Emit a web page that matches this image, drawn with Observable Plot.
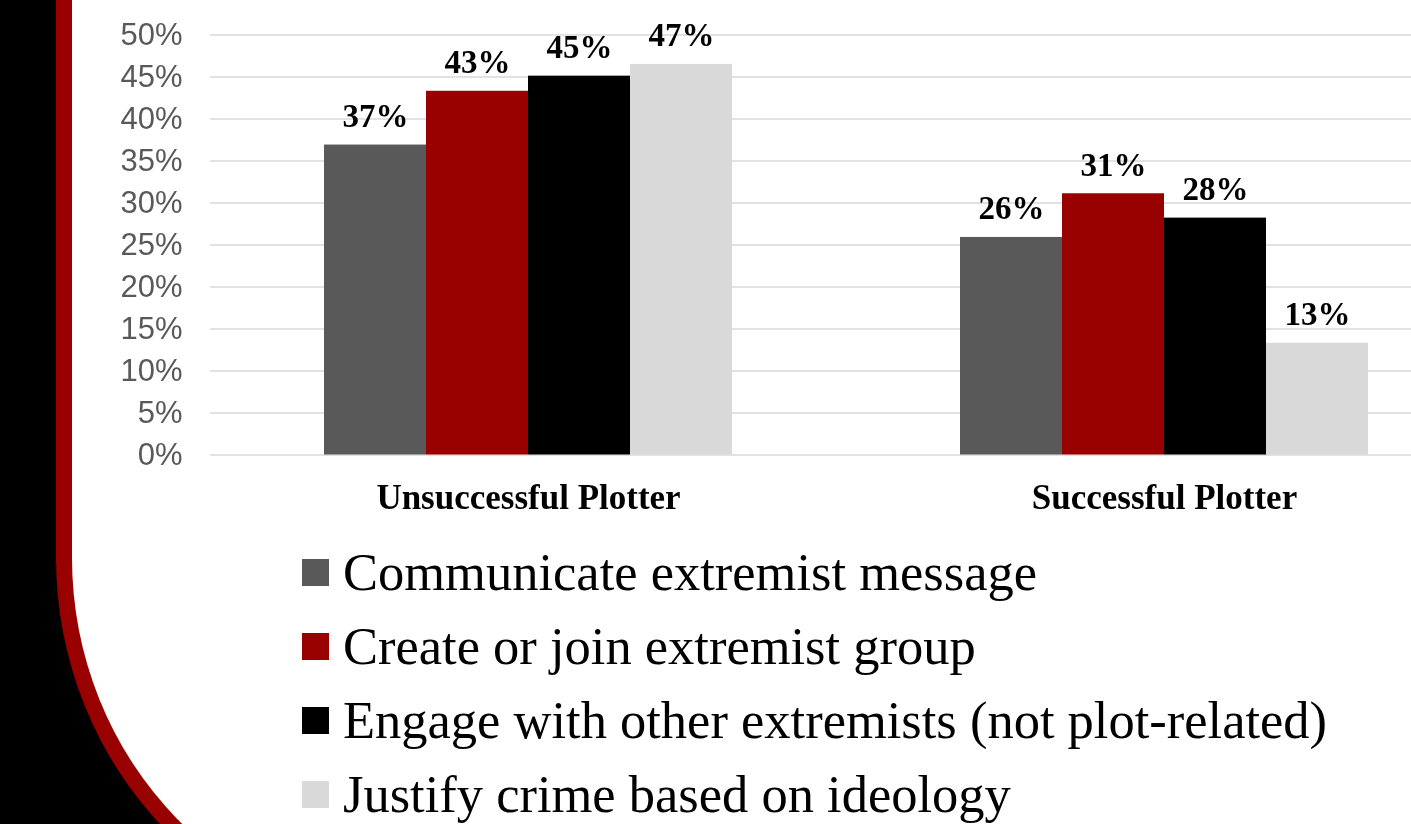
<!DOCTYPE html>
<html>
<head>
<meta charset="utf-8">
<script src="https://cdn.jsdelivr.net/npm/d3@7"></script>
<script src="https://cdn.jsdelivr.net/npm/@observablehq/plot@0.6"></script>
<style>
  html, body { margin: 0; padding: 0; width: 1411px; height: 824px; overflow: hidden; background: #000; }
  #panel {
    position: absolute; box-sizing: border-box;
    left: 56px; top: -400px; width: 1500px; height: 1343px;
    background: #fff;
    border-left: 16px solid #990000; border-bottom: 16px solid #990000;
    border-bottom-left-radius: 375px 385px;
  }
  #chart { position: absolute; left: 0; top: 0; }
  #chart svg { background: transparent !important; overflow: visible; max-width: none !important; }
  #legend { position: absolute; left: 302px; top: 535px; font-family: "Liberation Serif", "Times New Roman", serif; font-size: 52.5px; color: #000; }
  .row { height: 74px; display: flex; align-items: center; white-space: nowrap; }
  .sw { width: 27px; height: 27px; margin-right: 14px; flex: none; }
</style>
</head>
<body>
<div id="panel"></div>
<div id="chart"></div>
<div id="legend"></div>
<script>
const groups = ["Unsuccessful Plotter", "Successful Plotter"];
const series = [
  "Communicate extremist message",
  "Create or join extremist group",
  "Engage with other extremists (not plot-related)",
  "Justify crime based on ideology"
];
const unsuccessful = [36.9, 43.3, 45.1, 46.5];
const successful = [25.9, 31.1, 28.2, 13.3];
const colors = ["#595959", "#990000", "#000000", "#d9d9d9"];
const yTicks = [0, 5, 10, 15, 20, 25, 30, 35, 40, 45, 50];

const values = [unsuccessful, successful];
const data = groups.flatMap((g, i) => series.map((s, j) => ({group: g, series: s, value: values[i][j]})));

const chart = Plot.plot({
  width: 1411,
  height: 530,
  marginTop: 0,
  marginBottom: 75,
  fx: {domain: groups, range: [209.5, 1482.5], padding: 0, label: null},
  x: {domain: series, paddingInner: 0, paddingOuter: 1.097, axis: null},
  y: {domain: [0, 50], range: [454.5, 34.5], label: null},
  color: {domain: series, range: colors},
  marks: [
    Plot.ruleY(yTicks, {stroke: "#d9d9d9", strokeWidth: 1.5}),
    Plot.axisY({ticks: yTicks, tickFormat: d => d + "%", tickSize: 0, tickPadding: 28, label: null,
      fontSize: 31, fill: "#595959", fontFamily: "Liberation Sans, Arial, sans-serif"}),
    Plot.axisFx({anchor: "bottom", tickSize: 0, tickPadding: 29, label: null,
      fontSize: 35, fontWeight: "bold", fill: "#000", fontFamily: "Liberation Serif, Times New Roman, serif"}),
    Plot.barY(data, {fx: "group", x: "series", y: "value", fill: "series"}),
    Plot.text(data, {fx: "group", x: "series", y: "value", text: d => Math.round(d.value) + "%",
      lineAnchor: "bottom", dy: -18, fontSize: 33, fontWeight: "bold", fill: "#000",
      fontFamily: "Liberation Serif, Times New Roman, serif"})
  ]
});
document.getElementById("chart").appendChild(chart);

const legend = document.getElementById("legend");
series.forEach((s, j) => {
  const row = document.createElement("div");
  row.className = "row";
  const sw = document.createElement("span");
  sw.className = "sw";
  sw.style.background = colors[j];
  const t = document.createElement("span");
  t.textContent = s;
  row.appendChild(sw);
  row.appendChild(t);
  legend.appendChild(row);
});
</script>
</body>
</html>
